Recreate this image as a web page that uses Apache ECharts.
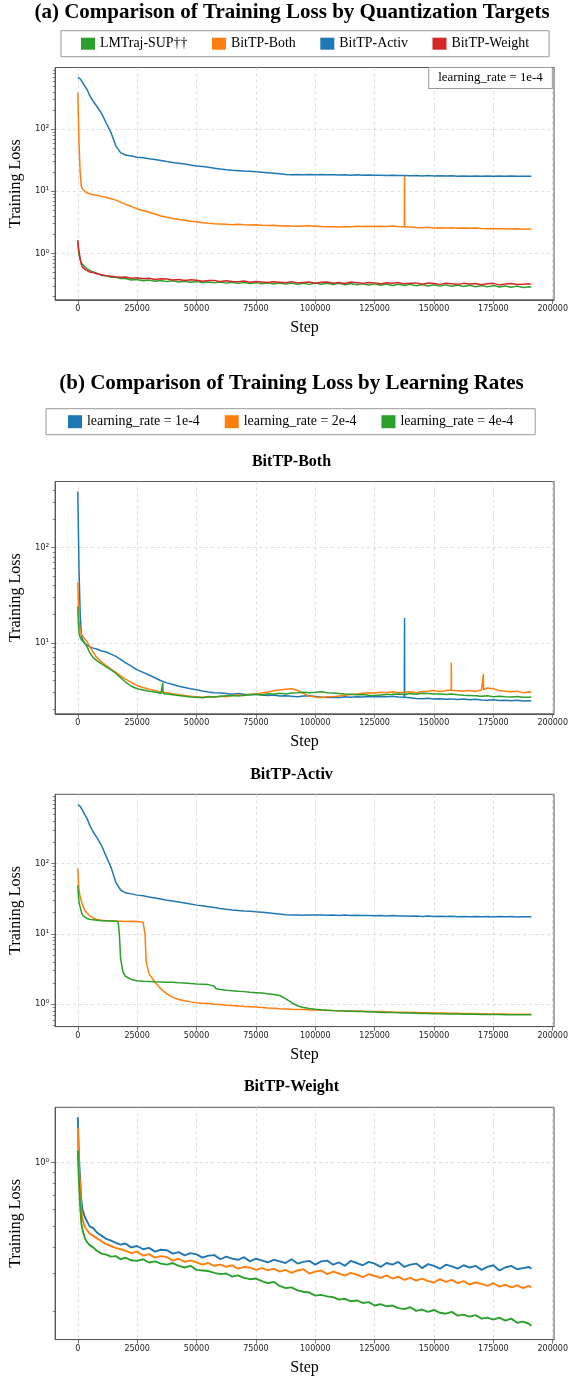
<!DOCTYPE html>
<html><head><meta charset="utf-8">
<script src="https://cdn.jsdelivr.net/npm/echarts@6/dist/echarts.min.js"></script>
<style>html,body{margin:0;padding:0;background:#fff}#c{width:571px;height:1377px}</style>
</head><body><div id="c"></div>
<script>
// ---------- data ----------
const STEPS = [0,250,500,1000,1500,2000,3000,4000,5000,6500,
8000,10000,12000,14000,16000,18000,20000,22500,25000,27500,
30000,32500,35000,37500,40000,42500,45000,47500,50000,52500,
55000,57500,60000,62500,65000,67500,70000,72500,75000,77500,
80000,82500,85000,87500,90000,92500,95000,97500,100000,102500,
105000,107500,110000,112500,115000,117500,120000,122500,125000,127500,
130000,132500,135000,137500,140000,142500,145000,147500,150000,152500,
155000,157500,160000,162500,165000,167500,170000,172500,175000,177500,
180000,182500,185000,187500,190000,191000];

const LMTRAJ_SUP = [1.50,1.15,0.95,0.78,0.70,0.66,0.60,0.56,0.53,0.50,
0.48,0.44,0.435,0.41,0.41,0.392,0.392,0.372,0.378,0.362,
0.37,0.356,0.364,0.35,0.36,0.346,0.356,0.342,0.35,0.338,
0.346,0.334,0.344,0.331,0.342,0.328,0.34,0.326,0.337,0.323,
0.335,0.321,0.333,0.319,0.332,0.318,0.33,0.316,0.333,0.318,
0.33,0.315,0.328,0.312,0.326,0.31,0.324,0.308,0.322,0.306,
0.32,0.304,0.318,0.302,0.316,0.3,0.314,0.298,0.312,0.296,
0.31,0.294,0.308,0.292,0.306,0.29,0.304,0.288,0.302,0.286,
0.298,0.284,0.296,0.282,0.29,0.284];

const BOTH_LR1 = [387,150,60,20,12,10.8,9.9,9.4,9.1,8.8,
8.6,8.2,8.0,7.6,7.2,6.7,6.2,5.7,5.2,4.9,
4.6,4.3,4.0,3.8,3.65,3.5,3.4,3.3,3.22,3.12,
3.05,3.0,2.98,2.93,2.88,2.94,2.88,2.85,2.89,2.83,
2.8,2.84,2.76,2.79,2.75,2.72,2.76,2.78,2.74,2.7,
2.67,2.69,2.66,2.71,2.69,2.72,2.7,2.74,2.71,2.74,
2.71,2.75,2.7,2.68,2.65,2.61,2.59,2.62,2.57,2.59,
2.56,2.58,2.54,2.57,2.53,2.55,2.51,2.49,2.52,2.48,
2.5,2.46,2.49,2.45,2.47,2.46];
const BOTH_LR1_SPIKES = [[137550,2.7],[137600,18.2],[137650,2.68]];

const BOTH_LR2 = [43,25,17,13.5,12.4,11.8,10.9,10.2,9.2,8.0,
7.0,6.3,5.75,5.3,4.9,4.5,4.15,3.85,3.56,3.4,
3.25,3.15,3.05,3.0,2.92,2.85,2.8,2.75,2.72,2.68,
2.74,2.7,2.75,2.72,2.8,2.85,2.79,2.88,2.9,2.97,
3.05,3.14,3.2,3.26,3.3,3.18,2.95,2.76,2.7,2.67,
2.71,2.72,2.76,2.81,2.86,2.9,2.96,3.0,2.97,3.03,
2.99,3.06,3.0,3.03,3.07,2.99,3.09,3.1,3.16,3.08,
3.15,3.2,3.14,3.1,3.16,3.09,3.2,3.36,3.3,3.15,
3.1,3.06,3.11,3.0,3.05,3.02];
const BOTH_LR2_SPIKES = [[157250,3.2],[157300,6.2],[157350,3.18],[170750,3.2],[170800,4.7],[170850,3.22]];

const BOTH_LR4 = [24,16,12.5,11.4,10.8,10.3,9.8,9.0,7.9,7.0,
6.5,6.0,5.6,5.2,4.8,4.3,3.9,3.5,3.3,3.2,
3.1,3.05,2.95,2.9,2.85,2.8,2.75,2.7,2.68,2.65,
2.72,2.7,2.75,2.78,2.8,2.77,2.82,2.85,2.88,2.84,
2.92,2.89,2.95,2.91,2.98,3.0,3.03,2.99,3.02,3.06,
3.0,2.97,2.94,2.91,2.89,2.85,2.86,2.82,2.8,2.83,
2.86,2.88,2.91,2.87,2.93,2.89,2.95,2.94,2.91,2.9,
2.87,2.9,2.85,2.82,2.8,2.78,2.75,2.79,2.72,2.75,
2.72,2.7,2.73,2.69,2.68,2.7];
const BOTH_LR4_SPIKES = [[35700,2.95],[35800,3.8],[35900,2.94]];

const ACTIV_LR1 = [687,680,672,650,615,570,490,430,350,280,
235,180,125,88,54,42,38.5,37,35.5,34.8,
33.5,32.4,31.3,30.1,29.2,28.4,27.5,26.5,25.6,25,
24.3,23.6,22.9,22.3,21.8,21.5,21.2,21,20.6,20.3,
19.9,19.5,19.1,18.7,18.5,18.6,18.4,18.6,18.5,18.6,
18.4,18.5,18.3,18.5,18.2,18.4,18.2,18.3,18.1,18.2,
18.0,18.2,17.9,18.0,17.8,18.0,17.7,17.9,17.6,17.8,
17.6,17.8,17.5,17.7,17.5,17.6,17.5,17.6,17.4,17.6,
17.5,17.6,17.4,17.5,17.5,17.4];

const ACTIV_LR2 = [85,55,42,33.6,29,25.6,21.5,19.5,18.2,16.8,
16.0,15.6,15.4,15.3,15.2,15.1,15.0,15.1,15.0,14.6,
2.7,2.05,1.65,1.4,1.25,1.17,1.12,1.08,1.05,1.03,
1.02,1.0,0.99,0.97,0.96,0.945,0.93,0.92,0.91,0.9,
0.885,0.875,0.86,0.855,0.845,0.84,0.838,0.83,0.828,0.82,
0.818,0.812,0.81,0.805,0.8,0.798,0.795,0.79,0.788,0.785,
0.78,0.778,0.772,0.77,0.765,0.762,0.758,0.755,0.752,0.75,
0.748,0.745,0.742,0.74,0.738,0.735,0.733,0.73,0.728,0.726,
0.725,0.723,0.722,0.72,0.72,0.719];
const ACTIV_LR2_EXTRA = [[28300,10.0],[28800,4.0]];

const ACTIV_LR4 = [49,35,28,24,20.5,18.5,17.2,16.5,16.1,15.8,
15.6,15.3,15.3,15.2,15.1,4.5,2.5,2.25,2.16,2.12,
2.1,2.08,2.07,2.06,2.05,2.02,2.0,1.97,1.94,1.92,
1.9,1.8,1.62,1.58,1.56,1.53,1.51,1.48,1.46,1.44,
1.41,1.37,1.33,1.2,1.05,0.95,0.9,0.87,0.85,0.835,
0.822,0.812,0.805,0.8,0.795,0.79,0.785,0.78,0.775,0.77,
0.765,0.76,0.756,0.752,0.748,0.744,0.74,0.737,0.734,0.731,
0.728,0.726,0.724,0.722,0.72,0.718,0.716,0.715,0.713,0.712,
0.711,0.71,0.71,0.709,0.708,0.708];
const ACTIV_LR4_EXTRA = [[17000,14.8],[17500,10.0],[19000,2.9],[58200,1.66]];

const WEIGHT_LR1 = [1.63,1.30,1.05,0.83,0.66,0.60,0.55,0.525,0.50,0.49,
0.468,0.452,0.436,0.428,0.418,0.41,0.415,0.398,0.404,0.39,
0.396,0.38,0.388,0.386,0.372,0.378,0.365,0.374,0.369,0.356,
0.364,0.366,0.35,0.36,0.352,0.348,0.358,0.342,0.352,0.346,
0.338,0.348,0.342,0.336,0.35,0.334,0.34,0.344,0.33,0.342,
0.345,0.33,0.338,0.326,0.344,0.336,0.328,0.34,0.334,0.322,
0.336,0.33,0.34,0.322,0.33,0.334,0.318,0.332,0.326,0.316,
0.33,0.324,0.316,0.328,0.32,0.326,0.312,0.322,0.328,0.31,
0.32,0.326,0.314,0.318,0.322,0.316];

const WEIGHT_LR2 = [1.46,1.15,0.95,0.767,0.60,0.54,0.495,0.478,0.462,0.452,
0.44,0.425,0.412,0.404,0.396,0.39,0.384,0.374,0.38,0.364,
0.37,0.356,0.362,0.358,0.345,0.352,0.34,0.346,0.338,0.33,
0.336,0.326,0.33,0.322,0.328,0.316,0.322,0.32,0.312,0.318,
0.31,0.316,0.306,0.312,0.302,0.31,0.314,0.3,0.306,0.31,
0.298,0.306,0.3,0.293,0.302,0.296,0.288,0.298,0.292,0.286,
0.294,0.284,0.29,0.28,0.286,0.278,0.284,0.276,0.272,0.282,
0.274,0.28,0.27,0.276,0.266,0.272,0.268,0.262,0.27,0.26,
0.266,0.258,0.264,0.256,0.262,0.258];

const WEIGHT_LR4 = [1.135,0.95,0.80,0.618,0.516,0.48,0.438,0.42,0.408,0.398,
0.384,0.372,0.368,0.36,0.362,0.35,0.356,0.346,0.344,0.35,
0.338,0.342,0.334,0.33,0.336,0.326,0.32,0.326,0.312,0.31,
0.308,0.302,0.298,0.3,0.29,0.294,0.286,0.282,0.284,0.276,
0.27,0.274,0.262,0.256,0.258,0.25,0.246,0.244,0.236,0.238,
0.234,0.232,0.226,0.228,0.222,0.224,0.218,0.22,0.212,0.215,
0.21,0.212,0.206,0.204,0.208,0.2,0.203,0.198,0.202,0.196,
0.194,0.198,0.19,0.192,0.188,0.191,0.184,0.186,0.182,0.186,
0.18,0.184,0.176,0.178,0.174,0.17];

const X_TICKS = [0,25000,50000,75000,100000,125000,150000,175000,200000];
const Y_MAJOR = [0.1,1,10,100,1000];
const Y_MINOR = [0.2,0.3,0.4,0.5,0.6,0.7,0.8,0.9,2,3,4,5,6,7,8,9,
20,30,40,50,60,70,80,90,200,300,400,500,600,700,800,900];
const SUP = {'-1':'⁻¹','0':'⁰','1':'¹','2':'²','3':'³'};

const C_BLUE='#1f77b4', C_ORANGE='#ff7f0e', C_GREEN='#2ca02c', C_RED='#d62728';
const LR_NAMES = ['learning_rate = 1e-4','learning_rate = 2e-4','learning_rate = 4e-4'];
const A_NAMES = ['LMTraj-SUP††','BitTP-Both','BitTP-Activ','BitTP-Weight'];

// ---------- helpers ----------
function pts(vals, extra){
  const d = STEPS.map((s,i)=>[s, vals[i]]);
  if (extra) extra.forEach(p=>d.push(p));
  d.sort((a,b)=>a[0]-b[0]);
  return d;
}
const SERIF = 'Liberation Serif';
const GRID_L = 52, GRID_W = 505, GRID_H = 232.3;
const PANELS = [
  {top:67.5,  ymin:Math.pow(10,-0.749), ymax:Math.pow(10,2.995)},
  {top:481.5, ymin:Math.pow(10,0.255),  ymax:Math.pow(10,2.693)},
  {top:794.3, ymin:Math.pow(10,-0.318), ymax:Math.pow(10,2.983)},
  {top:1107.3,ymin:Math.pow(10,-0.834), ymax:Math.pow(10,0.259)}
];
const grids=[], xAxes=[], yAxes=[];
PANELS.forEach((p,gi)=>{
  grids.push({left:GRID_L, top:p.top, width:GRID_W, height:GRID_H, show:true,
    borderColor:'#555', borderWidth:1, backgroundColor:'transparent', containLabel:false});
  xAxes.push({type:'value', gridIndex:gi, min:-9550, max:200550,
    axisLine:{show:true, onZero:false, lineStyle:{color:'#555', width:1}},
    axisTick:{show:true, customValues:X_TICKS, length:4, lineStyle:{color:'#555', width:0.8}},
    axisLabel:{show:true, customValues:X_TICKS, formatter:v=>String(Math.round(v)),
      fontFamily:'DejaVu Sans', fontSize:8, color:'#222', margin:5},
    splitLine:{show:true, lineStyle:{color:'#d4d4d4', type:[3,3], width:0.8}},
    name:'Step', nameLocation:'middle', nameGap:20,
    nameTextStyle:{fontFamily:SERIF, fontSize:16, color:'#000'}});
  const majors = Y_MAJOR.filter(v=>v>=p.ymin && v<=p.ymax);
  const minors = Y_MINOR.filter(v=>v>=p.ymin && v<=p.ymax);
  yAxes.push({type:'log', logBase:10, gridIndex:gi, position:'left', min:p.ymin, max:p.ymax,
    axisLine:{show:true, onZero:false, lineStyle:{color:'#555', width:1}},
    axisTick:{show:true, customValues:majors, length:4, lineStyle:{color:'#555', width:0.8}},
    axisLabel:{show:true, customValues:majors,
      formatter:v=>'10'+SUP[String(Math.round(Math.log10(v)))],
      fontFamily:'DejaVu Sans', fontSize:8.5, color:'#222', margin:6},
    splitLine:{show:true, lineStyle:{color:'#d4d4d4', type:[3,3], width:0.8}},
    minorTick:{show:false}, minorSplitLine:{show:false},
    name:'Training Loss', nameLocation:'middle', nameGap:28, nameRotate:90,
    nameTextStyle:{fontFamily:SERIF, fontSize:16, color:'#000'}});
  yAxes.push({type:'log', logBase:10, gridIndex:gi, position:'left', min:p.ymin, max:p.ymax,
    axisLine:{show:false, onZero:false},
    axisTick:{show:true, customValues:minors, length:2.5, lineStyle:{color:'#555', width:0.7}},
    axisLabel:{show:false}, splitLine:{show:false}});
});

function line(name, color, data, gi, w){
  return {type:'line', name, data, xAxisIndex:gi, yAxisIndex:gi*2,
    showSymbol:false, symbol:'none', clip:true, animation:false,
    lineStyle:{color, width:w || 1.5}, itemStyle:{color}};
}

const series = [
  line(A_NAMES[0], C_GREEN, pts(LMTRAJ_SUP), 0),
  line(A_NAMES[1], C_ORANGE, pts(BOTH_LR1, BOTH_LR1_SPIKES), 0),
  line(A_NAMES[2], C_BLUE, pts(ACTIV_LR1), 0),
  line(A_NAMES[3], C_RED, pts(WEIGHT_LR1), 0),

  line(LR_NAMES[0], C_BLUE, pts(BOTH_LR1, BOTH_LR1_SPIKES), 1),
  line(LR_NAMES[1], C_ORANGE, pts(BOTH_LR2, BOTH_LR2_SPIKES), 1),
  line(LR_NAMES[2], C_GREEN, pts(BOTH_LR4, BOTH_LR4_SPIKES), 1),

  line(LR_NAMES[0], C_BLUE, pts(ACTIV_LR1), 2),
  line(LR_NAMES[1], C_ORANGE, pts(ACTIV_LR2, ACTIV_LR2_EXTRA), 2),
  line(LR_NAMES[2], C_GREEN, pts(ACTIV_LR4, ACTIV_LR4_EXTRA), 2),

  line(LR_NAMES[0], C_BLUE, pts(WEIGHT_LR1), 3, 1.9),
  line(LR_NAMES[1], C_ORANGE, pts(WEIGHT_LR2), 3, 1.9),
  line(LR_NAMES[2], C_GREEN, pts(WEIGHT_LR4), 3, 1.9)
];

function titleText(text, x, y, size){
  return {type:'text', x, y, z:10, style:{text, fill:'#000', align:'center', verticalAlign:'middle',
    font:'bold '+size+'px "'+SERIF+'"'}};
}

const option = {
  animation:false,
  backgroundColor:'#fff',
  grid:grids, xAxis:xAxes, yAxis:yAxes, series,
  legend:[
    {data:A_NAMES, left:61, top:30.7, icon:'rect', itemWidth:14, itemHeight:12, itemGap:24.5,
     padding:[6,20,6,20], borderColor:'#999', borderWidth:1, borderRadius:0,
     textStyle:{fontFamily:SERIF, fontSize:13.9, color:'#000'}, selectedMode:false},
    {data:LR_NAMES, left:46, top:408.7, icon:'rect', itemWidth:14, itemHeight:13, itemGap:25,
     padding:[6,22,6,22], borderColor:'#999', borderWidth:1, borderRadius:0,
     textStyle:{fontFamily:SERIF, fontSize:13.9, color:'#000'}, selectedMode:false}
  ],
  graphic:[
    titleText('(a) Comparison of Training Loss by Quantization Targets', 292, 12.5, 21),
    titleText('(b) Comparison of Training Loss by Learning Rates', 291.5, 383.5, 21),
    titleText('BitTP-Both', 291.5, 462, 16),
    titleText('BitTP-Activ', 291.5, 774.7, 16),
    titleText('BitTP-Weight', 291.5, 1087.3, 16),
    {type:'text', x:490.5, y:78, z:10, style:{text:'learning_rate = 1e-4', fill:'#000',
      align:'center', verticalAlign:'middle', font:'12.9px "'+SERIF+'"',
      padding:[4,9,3,9], backgroundColor:'#fff', borderColor:'#999', borderWidth:1}}
  ]
};
const chart = echarts.init(document.getElementById('c'), null, {renderer:'canvas'});
chart.setOption(option);
</script></body></html>
